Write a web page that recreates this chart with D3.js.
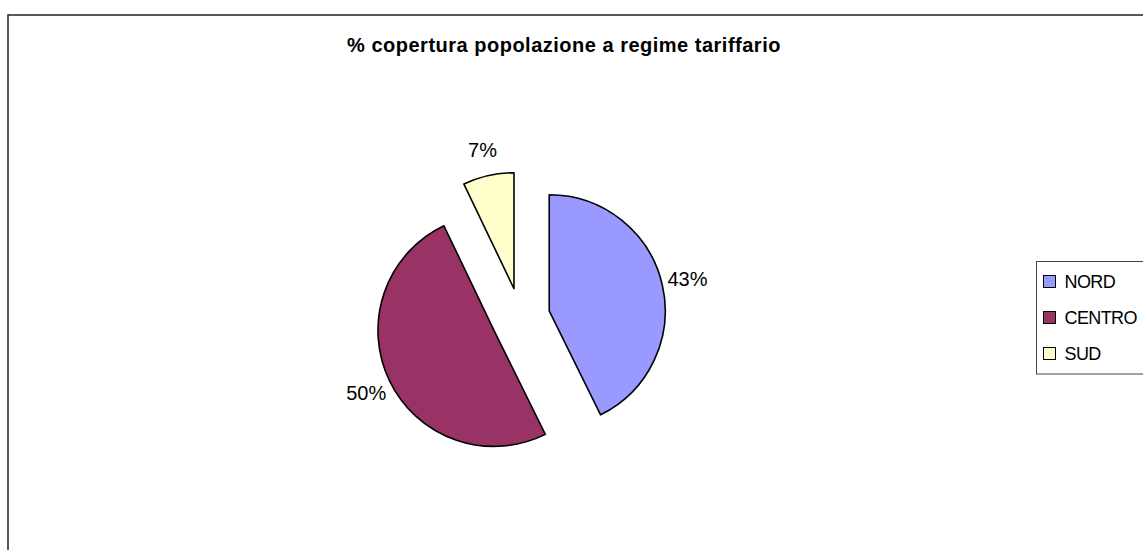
<!DOCTYPE html>
<html>
<head>
<meta charset="utf-8">
<script src="https://cdn.jsdelivr.net/npm/d3@7"></script>
<style>
    html, body { margin: 0; padding: 0; background: #fff; }
    svg { display: block; font-family: "Liberation Sans", Arial, sans-serif; }
</style>
</head>
<body>
<svg id="chart" width="1143" height="550"></svg>
<script>
    var title = "% copertura popolazione a regime tariffario";
    var categories = ["NORD", "CENTRO", "SUD"];
    var values = [42.7, 50.2, 7.1];
    var colors = ["#9999FF", "#993366", "#FFFFCC"];

    var svg = d3.select("#chart");
    var cx = 520.5, cy = 317.5, radius = 116, explode = 29.5, labelRadius = 142;

    // chart area frame (runs off the right/bottom edge like the original)
    svg.append("rect")
        .attr("x", 8).attr("y", 15)
        .attr("width", 1200).attr("height", 600)
        .attr("fill", "none")
        .attr("stroke", "#222")
        .attr("stroke-width", 1.5);

    svg.append("text")
        .attr("x", 564).attr("y", 52)
        .attr("text-anchor", "middle")
        .style("font-size", "20px")
        .style("font-weight", "bold")
        .style("letter-spacing", "0.5px")
        .text(title);

    var data = categories.map(function(c, i) { return {name: c, value: values[i], color: colors[i]}; });
    var total = d3.sum(values);
    var fmt = d3.format(".0%");

    var pie = d3.pie().sort(null).value(function(d) { return d.value; });
    var arc = d3.arc().innerRadius(0).outerRadius(radius);

    var slices = svg.append("g").selectAll("g.slice")
        .data(pie(data))
        .enter().append("g")
        .attr("class", "slice")
        .attr("transform", function(d) {
            var a = (d.startAngle + d.endAngle) / 2;
            return "translate(" + (cx + explode * Math.sin(a)) + "," + (cy - explode * Math.cos(a)) + ")";
        });

    slices.append("path")
        .attr("d", arc)
        .attr("fill", function(d) { return d.data.color; })
        .attr("stroke", "#000")
        .attr("stroke-width", 1.6)
        .attr("stroke-linejoin", "round");

    slices.append("text")
        .attr("x", function(d) { return labelRadius * Math.sin((d.startAngle + d.endAngle) / 2); })
        .attr("y", function(d) { return -labelRadius * Math.cos((d.startAngle + d.endAngle) / 2); })
        .attr("dy", "0.36em")
        .attr("text-anchor", "middle")
        .style("font-size", "20px")
        .text(function(d) { return fmt(d.data.value / total); });

    // legend
    var legend = svg.append("g").attr("transform", "translate(1036.5,261.5)");
    legend.append("rect")
        .attr("width", 200).attr("height", 112.5)
        .attr("fill", "#fff")
        .attr("stroke", "#444")
        .attr("stroke-width", 1);

    var items = legend.selectAll("g.item")
        .data(data)
        .enter().append("g")
        .attr("class", "item")
        .attr("transform", function(d, i) { return "translate(0," + (20 + i * 36) + ")"; });

    items.append("rect")
        .attr("x", 7).attr("y", -6)
        .attr("width", 12).attr("height", 12)
        .attr("fill", function(d) { return d.color; })
        .attr("stroke", "#000")
        .attr("stroke-width", 1);

    items.append("text")
        .attr("x", 28)
        .attr("dy", "0.36em")
        .style("font-size", "18px")
        .style("letter-spacing", "-0.6px")
        .text(function(d) { return d.name; });
</script>
</body>
</html>
